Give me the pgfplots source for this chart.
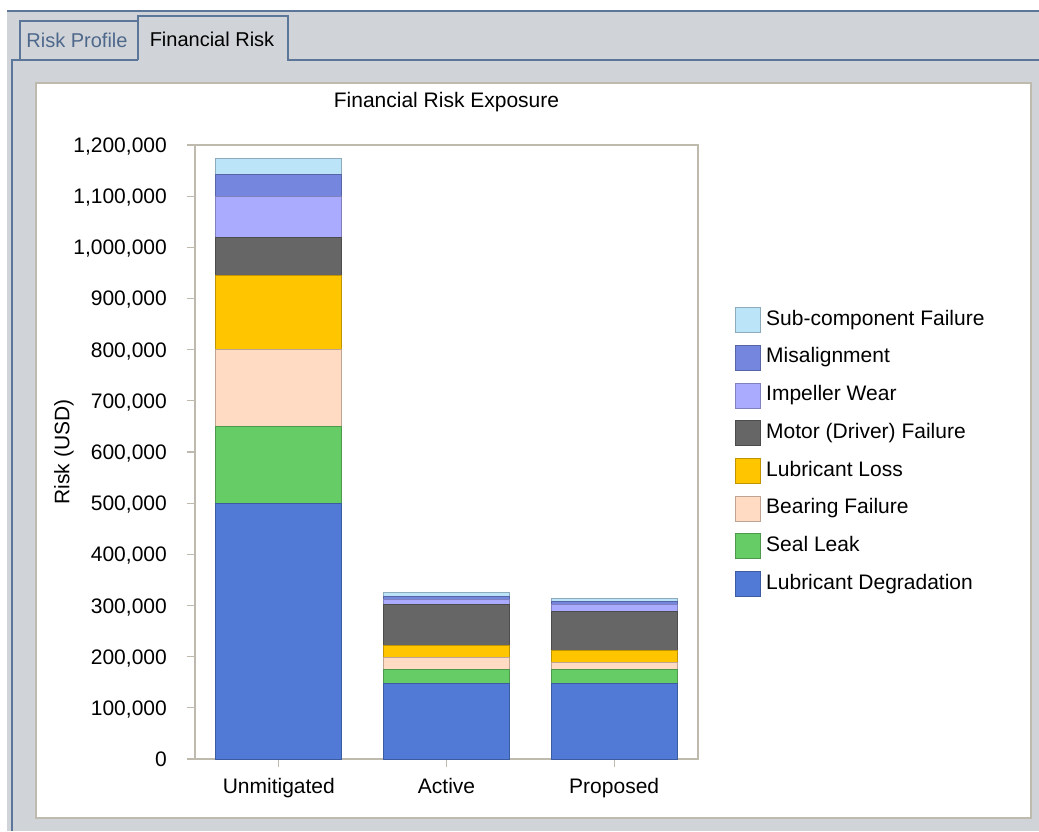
\documentclass[border=0pt]{standalone}
\usepackage{fontspec}
\setmainfont{Liberation Sans}
\usepackage{pgfplots}
\pgfplotsset{compat=1.18}
\definecolor{bggray}{RGB}{208,212,216}
\definecolor{tabblue}{RGB}{92,118,153}
\definecolor{tabtext}{RGB}{78,104,140}
\definecolor{framec}{RGB}{190,186,174}
\definecolor{cA}{RGB}{80,122,214}
\definecolor{cB}{RGB}{102,204,102}
\definecolor{cC}{RGB}{255,219,196}
\definecolor{cD}{RGB}{255,198,0}
\definecolor{cE}{RGB}{102,102,102}
\definecolor{cF}{RGB}{170,170,255}
\definecolor{cG}{RGB}{116,134,221}
\definecolor{cH}{RGB}{188,228,248}
\newcommand{\fs}{\fontsize{21}{25}\selectfont}
\begin{document}
\begin{tikzpicture}[x=1pt,y=1pt]
\path[use as bounding box] (0,0) rectangle (1039,831);
\fill[white] (0,0) rectangle (1039,831);
\fill[bggray] (7,0) rectangle (1039,820);
\draw[tabblue, line width=2pt] (7,820) -- (1039,820);
\draw[tabblue, line width=2pt] (12,0) -- (12,771) -- (138,771);
\draw[tabblue, line width=2pt] (20,771) -- (20,810) -- (138,810) -- (138,771);
\draw[tabblue, line width=2pt] (138,771) -- (138,815) -- (288,815) -- (288,771) -- (1039,771);
\node[font=\fontsize{20}{24}\selectfont, text=tabtext] at (77,791) {Risk Profile};
\node[font=\fontsize{20}{24}\selectfont, text=black] at (212,792) {Financial Risk};
\filldraw[fill=white, draw=framec, line width=2pt] (36,13) rectangle (1031,748);
\begin{axis}[
  at={(195pt,72pt)}, anchor=south west,
  scale only axis, width=503pt, height=614pt,
  ybar stacked, bar width=126pt,
  xmin=-0.5, xmax=2.5, ymin=0, ymax=1200000,
  xtick={0,1,2}, xticklabels={Unmitigated,Active,Proposed},
  ytick={0,100000,...,1200000},
  scaled y ticks=false,
  tick pos=left, tick align=outside, major tick length=8pt,
  tick style={color=framec, line width=1.2pt},
  axis line style={color=framec, line width=1.5pt},
  yticklabel style={font=\fs, anchor=base east, inner xsep=0pt, xshift=-20pt, yshift=-7.5pt,
    /pgf/number format/.cd, fixed, precision=0, 1000 sep={,}, assume math mode=true},
  xticklabel style={font=\fs, anchor=base, yshift=-26pt},
  title={Financial Risk Exposure},
  title style={font=\fs, at={(0.5,1)}, anchor=base, yshift=31pt},
  ylabel={Risk (USD)},
  ylabel style={font=\fs, at={(axis description cs:-0.2605,0.5)}, anchor=center},
  legend image code/.code={\draw[#1] (0pt,-12.5pt) rectangle (25pt,12.5pt);},
  reverse legend,
  legend style={draw=none, fill=none, font=\fs, at={(1.0736,0.7361)}, anchor=north west,
    inner sep=0pt, row sep=11.7pt, legend cell align=left,
    nodes={inner xsep=5pt, inner ysep=0pt, text height=16pt, text depth=6pt}},
]
\addplot[fill=cA, draw=cA!75!black, line width=1pt] coordinates {(0,500000) (1,148000) (2,148000)};
\addlegendentry{Lubricant Degradation}
\addplot[fill=cB, draw=cB!75!black, line width=1pt] coordinates {(0,150000) (1,27000) (2,27000)};
\addlegendentry{Seal Leak}
\addplot[fill=cC, draw=cC!75!black, line width=1pt] coordinates {(0,150000) (1,23000) (2,13000)};
\addlegendentry{Bearing Failure}
\addplot[fill=cD, draw=cD!75!black, line width=1pt] coordinates {(0,145000) (1,23000) (2,25000)};
\addlegendentry{Lubricant Loss}
\addplot[fill=cE, draw=cE!75!black, line width=1pt] coordinates {(0,75000) (1,80000) (2,76000)};
\addlegendentry{Motor (Driver) Failure}
\addplot[fill=cF, draw=cF!75!black, line width=1pt] coordinates {(0,80000) (1,11000) (2,12000)};
\addlegendentry{Impeller Wear}
\addplot[fill=cG, draw=cG!75!black, line width=1pt] coordinates {(0,42000) (1,6000) (2,6000)};
\addlegendentry{Misalignment}
\addplot[fill=cH, draw=cH!75!black, line width=1pt] coordinates {(0,32000) (1,7000) (2,7000)};
\addlegendentry{Sub-component Failure}
\end{axis}
\end{tikzpicture}
\end{document}
